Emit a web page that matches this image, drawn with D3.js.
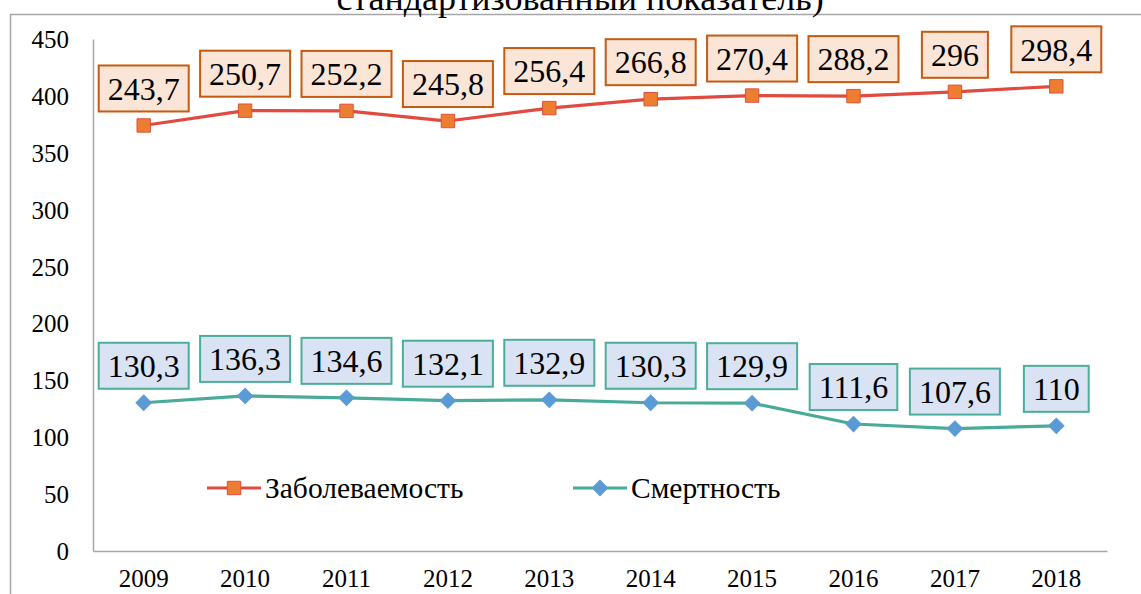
<!DOCTYPE html>
<html>
<head>
<meta charset="utf-8">
<script src="https://cdn.jsdelivr.net/npm/d3@7"></script>
<style>
  html, body { margin: 0; padding: 0; background: #fff; }
  #chart { width: 1141px; height: 594px; }
</style>
</head>
<body>
<div id="chart"></div>
<script>
// Years on the x axis
const years = ['2009', '2010', '2011', '2012', '2013', '2014', '2015', '2016', '2017', '2018'];

// Series values (the chart is a stacked line: morbidity sits on top of mortality)
const morbidity = [243.7, 250.7, 252.2, 245.8, 256.4, 266.8, 270.4, 288.2, 296, 298.4];
const mortality = [130.3, 136.3, 134.6, 132.1, 132.9, 130.3, 129.9, 111.6, 107.6, 110];

// Y axis ticks
const yTicks = [0, 50, 100, 150, 200, 250, 300, 350, 400, 450];

const titleText = 'стандартизованный показатель)';
const legendNames = ['Заболеваемость', 'Смертность'];

const FONT = '"Liberation Serif", "Times New Roman", "DejaVu Serif", serif';
const W = 1141, H = 594;
const margin = { left: 93, right: 34, top: 39, bottom: 43 };

const svg = d3.select('#chart').append('svg')
  .attr('width', W)
  .attr('height', H)
  .style('font-family', FONT);

// outer frame (only top and left edges are visible in the picture)
svg.append('path')
  .attr('d', `M10.5,${H} V14.5 H${W}`)
  .attr('fill', 'none')
  .attr('stroke', '#a6a6a6')
  .attr('stroke-width', 1.5);

// title, cut off by the top edge like in the source
svg.append('text')
  .attr('x', 580)
  .attr('y', 10)
  .attr('text-anchor', 'middle')
  .style('font-family', FONT)
  .style('font-size', '36px')
  .text(titleText);

const x = d3.scaleBand()
  .domain(years)
  .range([margin.left, W - margin.right])
  .padding(0);

const y = d3.scaleLinear()
  .domain([0, 450])
  .range([H - margin.bottom, margin.top]);

const cx = d => x(d) + x.bandwidth() / 2;

// axes
const yAxis = d3.axisLeft(y).tickValues(yTicks).tickSize(0).tickPadding(24);
const gy = svg.append('g').attr('transform', `translate(${margin.left},0)`).call(yAxis);
gy.attr('font-family', null);
gy.select('.domain').attr('stroke', '#a6a6a6').attr('stroke-width', 1.5);
gy.selectAll('text')
  .style('font-family', FONT)
  .style('font-size', '25px')
  .attr('fill', '#000')
  .attr('dy', '0.34em');

const xAxis = d3.axisBottom(x).tickSize(0).tickPadding(18);
const gx = svg.append('g').attr('transform', `translate(0,${y(0)})`).call(xAxis);
gx.attr('font-family', null);
gx.select('.domain').attr('stroke', '#a6a6a6').attr('stroke-width', 1.5);
gx.selectAll('text')
  .style('font-family', FONT)
  .style('font-size', '25px')
  .attr('fill', '#000');

// stack the two series
const rows = years.map((yr, i) => ({ year: yr, mortality: mortality[i], morbidity: morbidity[i] }));
const stacked = d3.stack().keys(['mortality', 'morbidity'])(rows);

const square = d3.symbol().type(d3.symbolSquare).size(180);
const diamond = d3.symbol().type(d3.symbolSquare).size(118); // rotated 45deg below

const series = [
  { name: legendNames[0], data: stacked[1], line: '#e04a3f',
    marker: square, rotate: 0, markerFill: '#ed7d31', markerStroke: '#e0503f',
    boxFill: '#fbe5d6', boxStroke: '#c55a11', values: morbidity },
  { name: legendNames[1], data: stacked[0], line: '#47ab98',
    marker: diamond, rotate: 45, markerFill: '#5b9bd5', markerStroke: '#5b9bd5',
    boxFill: '#dae3f3', boxStroke: '#4bae9a', values: mortality }
];

const fmt = v => String(v).replace('.', ',');

const lineGen = d3.line()
  .x(d => cx(d.data.year))
  .y(d => y(d[1]));

series.forEach(s => {
  svg.append('path')
    .datum(s.data)
    .attr('d', lineGen)
    .attr('fill', 'none')
    .attr('stroke', s.line)
    .attr('stroke-width', 3.2)
    .attr('stroke-linejoin', 'round');

  svg.selectAll(null)
    .data(s.data)
    .enter()
    .append('path')
    .attr('transform', d => `translate(${cx(d.data.year)},${y(d[1])}) rotate(${s.rotate})`)
    .attr('d', s.marker)
    .attr('fill', s.markerFill)
    .attr('stroke', s.markerStroke)
    .attr('stroke-width', 1);

  // data labels in boxes above each point
  const labels = svg.selectAll(null)
    .data(s.data)
    .enter()
    .append('g')
    .attr('transform', d => `translate(${cx(d.data.year)},${y(d[1]) - 14 - 23})`);

  labels.append('rect');
  const texts = labels.append('text')
    .attr('text-anchor', 'middle')
    .attr('dy', '0.35em')
    .attr('fill', '#000')
    .style('font-family', FONT)
    .style('font-size', '32px')
    .text((d, i) => fmt(s.values[i]));

  texts.each(function () {
    const w = this.getComputedTextLength() + 18;
    d3.select(this.previousSibling)
      .attr('x', -w / 2)
      .attr('y', -23)
      .attr('width', w)
      .attr('height', 46)
      .attr('fill', s.boxFill)
      .attr('stroke', s.boxStroke)
      .attr('stroke-width', 2);
  });
});

// legend
const legendItems = [
  { s: series[0], x: 207 },
  { s: series[1], x: 573 }
];
const legendY = 488;
legendItems.forEach(item => {
  const g = svg.append('g').attr('transform', `translate(${item.x},${legendY})`);
  g.append('line')
    .attr('x1', 0).attr('x2', 54)
    .attr('stroke', item.s.line)
    .attr('stroke-width', 3.2);
  g.append('path')
    .attr('transform', `translate(27,0) rotate(${item.s.rotate})`)
    .attr('d', item.s.marker)
    .attr('fill', item.s.markerFill)
    .attr('stroke', item.s.markerStroke);
  g.append('text')
    .attr('x', 58)
    .attr('dy', '0.35em')
    .attr('fill', '#000')
    .style('font-family', FONT)
    .style('font-size', '29.5px')
    .text(item.s.name);
});
</script>
</body>
</html>
